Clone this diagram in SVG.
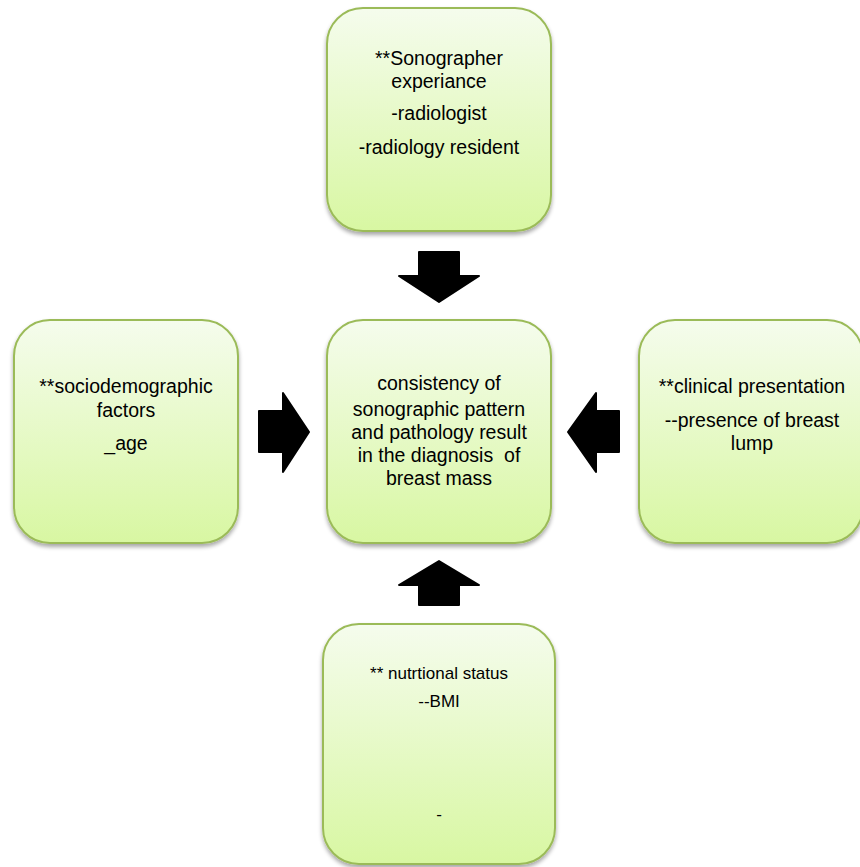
<svg xmlns="http://www.w3.org/2000/svg" width="860" height="867" viewBox="0 0 860 867">
<defs>
<linearGradient id="g" x1="0" y1="0" x2="0" y2="1">
<stop offset="0" stop-color="#f5fced"/>
<stop offset="1" stop-color="#d8f7a2"/>
</linearGradient>
<filter id="sh" x="-10%" y="-10%" width="120%" height="120%">
<feGaussianBlur in="SourceAlpha" stdDeviation="2"/>
<feOffset dx="0" dy="3"/>
<feComponentTransfer><feFuncA type="linear" slope="0.35"/></feComponentTransfer>
<feMerge><feMergeNode/><feMergeNode in="SourceGraphic"/></feMerge>
</filter>
</defs>
<style>
.box{fill:url(#g);stroke:#9bbb59;stroke-width:2;filter:url(#sh)}
.t{font-family:"Liberation Sans",Arial,sans-serif;font-size:19.5px;fill:#000;text-anchor:middle;white-space:pre}
.s{font-size:17px}
.arr{fill:#000;stroke:#000;stroke-width:2;stroke-linejoin:round}
</style>
<rect width="860" height="867" fill="#fff"/>
<g id="connectors">
<path class="arr" d="M419,252 H459 V276 H479 L439,302 L399,276 H419 Z"/>
<path class="arr" d="M419,605 H459 V585 H479 L439,561 L399,585 H419 Z"/>
<path class="arr" d="M259,411 V452 H283 V472 L309,432 L283,393 V411 Z"/>
<path class="arr" d="M619,411 V452 H596 V472 L568,432 L596,393 V411 Z"/>
</g>
<g id="top">
<rect class="box" x="327" y="8" width="224" height="223" rx="36"/>
<text class="t" x="439" y="65">**Sonographer</text>
<text class="t" x="439" y="88">experiance</text>
<text class="t" x="439" y="120">-radiologist</text>
<text class="t" x="439" y="154">-radiology resident</text>
</g>
<g id="center">
<rect class="box" x="327" y="320" width="224" height="223" rx="36"/>
<text class="t" x="439" y="390">consistency of</text>
<text class="t" x="439" y="416">sonographic pattern</text>
<text class="t" x="439" y="439">and pathology result</text>
<text class="t" x="439" y="462" xml:space="preserve">in the diagnosis  of</text>
<text class="t" x="439" y="485">breast mass</text>
</g>
<g id="left">
<rect class="box" x="14" y="320" width="224" height="223" rx="36"/>
<text class="t" x="126" y="393">**sociodemographic</text>
<text class="t" x="126" y="417">factors</text>
<text class="t" x="126" y="450">_age</text>
</g>
<g id="right">
<rect class="box" x="639" y="320" width="224" height="223" rx="36"/>
<text class="t" x="752" y="393">**clinical presentation</text>
<text class="t" x="752" y="427">--presence of breast</text>
<text class="t" x="752" y="450">lump</text>
</g>
<g id="bottom">
<rect class="box" x="323" y="624" width="232" height="240" rx="36"/>
<text class="t s" x="439" y="679">** nutrtional status</text>
<text class="t s" x="439" y="707">--BMI</text>
<text class="t s" x="439" y="820">-</text>
</g>
</svg>
